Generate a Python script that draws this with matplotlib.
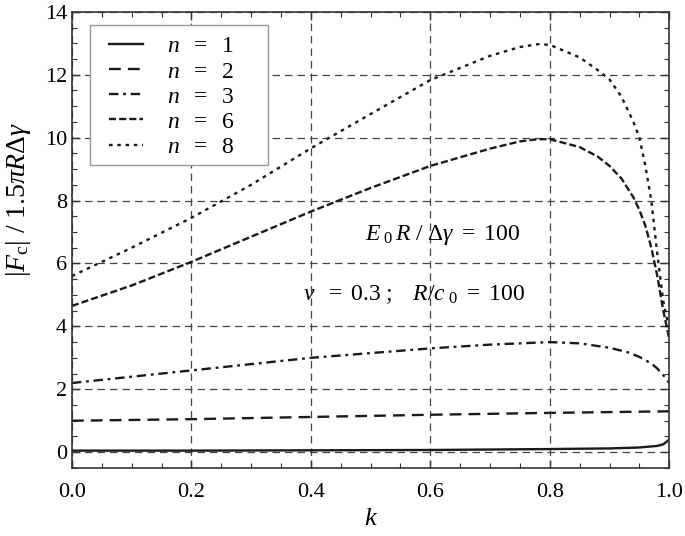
import matplotlib
matplotlib.use('Agg')
import matplotlib.pyplot as plt
from matplotlib.patches import Rectangle
from matplotlib.ticker import MultipleLocator, FormatStrFormatter

plt.rcParams['font.family'] = ['Liberation Serif', 'DejaVu Serif']
plt.rcParams['mathtext.fontset'] = 'custom'
plt.rcParams['mathtext.rm'] = 'Liberation Serif'
plt.rcParams['mathtext.it'] = 'Liberation Serif:italic'

# data
k_n1 = [0.0, 0.2, 0.4, 0.6, 0.8, 0.9, 0.95, 0.98, 0.99, 1.0]
f_n1 = [0.05, 0.05, 0.06, 0.07, 0.10, 0.12, 0.15, 0.20, 0.25, 0.40]

k_n2 = [0.0, 0.2, 0.4, 0.6, 0.8, 1.0]
f_n2 = [1.00, 1.05, 1.12, 1.19, 1.25, 1.30]

k_n3 = [0.0, 0.1, 0.2, 0.3, 0.4, 0.5, 0.6, 0.7, 0.8, 0.85, 0.9, 0.93, 0.95, 0.97, 0.98, 0.99, 1.0]
f_n3 = [2.2, 2.4, 2.6, 2.8, 3.0, 3.15, 3.3, 3.42, 3.5, 3.46, 3.32, 3.18, 3.03, 2.82, 2.66, 2.45, 2.2]

k_n6 = [0.0, 0.1, 0.2, 0.3, 0.4, 0.5, 0.6, 0.7, 0.75, 0.78, 0.8, 0.85, 0.88, 0.9, 0.92,
        0.94, 0.95, 0.96, 0.97, 0.98, 0.99, 1.0]
f_n6 = [4.65, 5.3, 6.05, 6.85, 7.65, 8.4, 9.1, 9.65, 9.88, 9.95, 9.95, 9.7, 9.4, 9.1, 8.7,
        8.1, 7.7, 7.2, 6.5, 5.6, 4.5, 3.6]

k_n8 = [0.0, 0.1, 0.2, 0.3, 0.4, 0.5, 0.6, 0.7, 0.75, 0.78, 0.8, 0.85, 0.88, 0.9, 0.92,
        0.94, 0.95, 0.96, 0.97, 0.98, 0.99, 1.0]
f_n8 = [5.6, 6.5, 7.45, 8.5, 9.66, 10.75, 11.83, 12.6, 12.88, 12.97, 12.95, 12.55, 12.15, 11.85, 11.3,
        10.5, 10.0, 9.1, 8.0, 6.3, 4.8, 3.9]

series = [
    (k_n1, f_n1, r'$n\ \ =\ \ 1$', '-'),
    (k_n2, f_n2, r'$n\ \ =\ \ 2$', (0, (5, 3))),
    (k_n3, f_n3, r'$n\ \ =\ \ 3$', (0, (4, 2, 1.2, 2))),
    (k_n6, f_n6, r'$n\ \ =\ \ 6$', (0, (3, 1.3))),
    (k_n8, f_n8, r'$n\ \ =\ \ 8$', (0, (1.5, 2))),
]

fig = plt.figure(figsize=(6.85, 5.36), dpi=100)
ax = fig.add_axes([0.105, 0.127, 0.872, 0.851])

for kk, ff, lab, ls in series:
    ax.plot(kk, ff, color='#1a1a1a', lw=1.7, linestyle=ls, label=lab)

ax.set_xlim(0.0, 1.0)
ax.set_ylim(-0.5, 14)
ax.xaxis.set_major_locator(MultipleLocator(0.2))
ax.xaxis.set_minor_locator(MultipleLocator(0.05))
ax.yaxis.set_major_locator(MultipleLocator(2))
ax.yaxis.set_minor_locator(MultipleLocator(0.5))
ax.xaxis.set_major_formatter(FormatStrFormatter('%.1f'))
ax.tick_params(which='both', direction='in', top=True, right=True, labelsize=16, color='#333333')
ax.tick_params(which='major', length=6, width=1)
ax.tick_params(which='minor', length=3.5, width=0.8)
ax.tick_params(axis='x', pad=11)
for sp in ax.spines.values():
    sp.set_color('#333333')
    sp.set_linewidth(1.2)

ax.grid(True, which='major', linestyle=(0, (6, 4)), color='#444444', lw=0.9)

ax.set_xlabel(r'$k$', fontsize=19, labelpad=4)
ax.set_ylabel(r'$|F_{\rm c}|\ /\ 1.5\pi R\Delta\gamma$', fontsize=20)
ax.yaxis.set_label_coords(-0.066, 0.588)

ax.text(0.49, 6.9, r'$E_{\ 0}\,R\ /\ \Delta\gamma\ =\ 100$', fontsize=17, va='center')
ax.text(0.387, 5.0, r'$\nu\ \ =\ 0.3\ ;\ \ \ R/c_{\ 0}\ =\ 100$', fontsize=17, va='center')

# legend box drawn separately so its padding matches the original
box = Rectangle((0.030, 0.664), 0.298, 0.307, transform=ax.transAxes,
                facecolor='white', edgecolor='#999999', lw=1.0, zorder=4)
ax.add_patch(box)
leg = ax.legend(loc='upper left', fontsize=17, frameon=False,
                handlelength=1.45, labelspacing=0.15, borderpad=0, borderaxespad=0,
                bbox_to_anchor=(0.062, 0.947), handletextpad=1.0)
leg.set_zorder(5)

fig.savefig('out.png', dpi=100)
